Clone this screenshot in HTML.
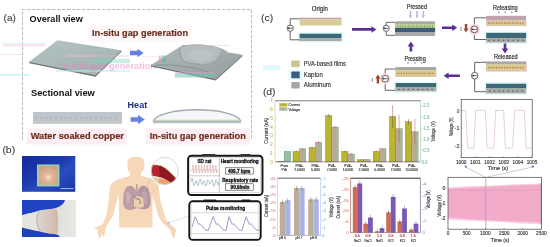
<!DOCTYPE html>
<html><head><meta charset="utf-8"><style>
html,body{margin:0;padding:0;background:#fff;}
svg{display:block;filter:blur(0.42px);}
text{font-family:"Liberation Sans",sans-serif;}
</style></head><body>
<svg width="550" height="247" viewBox="0 0 550 247">
<rect width="550" height="247" fill="#fff"/>
<text x="3.6" y="20.7" font-size="9.6" fill="#404040" text-anchor="start" textLength="12.3" lengthAdjust="spacingAndGlyphs" stroke="#404040" stroke-width="0.12">(a)</text>
<path d="M22.5,140 V9.5 H251.5 V140" fill="none" stroke="#a8a8a8" stroke-width="0.8" stroke-dasharray="3.4,1.6"/>
<text x="29.6" y="22.2" font-size="9.1" fill="#111" font-weight="bold" text-anchor="start" textLength="53.2" lengthAdjust="spacingAndGlyphs">Overall view</text>
<rect x="88" y="25" width="104" height="17" fill="#fef8f9"/>
<text x="92" y="35.7" font-size="9.2" fill="#6e2e1e" font-weight="bold" text-anchor="start" textLength="96" lengthAdjust="spacingAndGlyphs" stroke="#6e2e1e" stroke-width="0.2">In-situ gap generation</text>
<defs>
<linearGradient id="slab" x1="0" y1="0" x2="1" y2="1">
 <stop offset="0" stop-color="#b4c4c2"/><stop offset="1" stop-color="#a0b0ae"/></linearGradient>
<linearGradient id="slab2" x1="0" y1="0" x2="1" y2="1">
 <stop offset="0" stop-color="#aeb8b8"/><stop offset="1" stop-color="#949e9e"/></linearGradient>
<radialGradient id="dome" cx="0.5" cy="0.45" r="0.6">
 <stop offset="0" stop-color="#bcc4c4"/><stop offset="0.7" stop-color="#b0b9b9"/><stop offset="1" stop-color="#a2acac" stop-opacity="0"/></radialGradient>
</defs>
<polygon points="29.2,61.7 57.5,40.3 121.4,50.3 95.6,75.1" fill="url(#slab)"/>
<polygon points="29.2,61.7 95.6,75.1 121.4,50.3 121.4,51.8 95.6,76.8 29.2,63.2" fill="#6f7a7a"/>
<rect x="92" y="58.8" width="38" height="4.4" fill="#72d6bc" opacity="0.4"/>
<rect x="66" y="54.5" width="30" height="2.6" fill="#f4b8d8" opacity="0.45"/><rect x="96" y="55" width="34" height="2" fill="#f4b8d8" opacity="0.3"/>
<rect x="56" y="70" width="74" height="1.8" fill="#b0f0f0" opacity="0.6"/>
<text x="60" y="69.3" font-size="9.0" fill="#f07cc0" font-weight="bold" text-anchor="start" textLength="96" lengthAdjust="spacingAndGlyphs" opacity="0.5">In-situ gap generation</text>
<polygon points="130,50.8 137.5,50.8 137.5,48.8 143.6,53 137.5,57.2 137.5,55.2 130,55.2" fill="#6680e0"/>
<polygon points="151,65 183.2,44.7 242.4,54.8 215.6,78.8" fill="url(#slab2)"/>
<path d="M178,48 Q186,43.6 200,44.2 Q214,45 224,49.5 L228,52 L200,56 Z" fill="#a6b0b0"/>
<path d="M180.6,48 Q178.5,56.5 185,61.5 Q191,64 200,64 Q210,64 215.5,60 Q219.5,55.5 221.5,49.5 Q212,45.8 200,45.4 Q188,45.4 180.6,47.5 Z" fill="#b4bebe"/>
<path d="M180.6,48 Q178.5,56.5 185,61.5 Q191,64 200,64" fill="none" stroke="#8a9595" stroke-width="0.9" opacity="0.7"/>
<ellipse cx="201" cy="55.5" rx="12" ry="5.5" fill="#bcc6c6" opacity="0.8"/>
<path d="M156,65.2 Q182,63.5 210,72.5" fill="none" stroke="#84908f" stroke-width="1.3" opacity="0.7"/>
<polygon points="151,65 215.6,78.8 242.4,54.8 242.4,56.3 215.6,80.4 151,66.5" fill="#6f7a7a"/>
<rect x="175" y="73" width="40.5" height="4.3" fill="#66ccb4" opacity="0.55" stroke="#f090c0" stroke-width="0.5"/>
<line x1="176" y1="72.8" x2="214" y2="72.8" stroke="#f0a0c8" stroke-width="0.6" opacity="0.8"/>
<line x1="190" y1="45.6" x2="230" y2="45.6" stroke="#f0a8cc" stroke-width="0.7" opacity="0.6"/>
<rect x="158.5" y="55.5" width="3" height="7" fill="#f080b0" opacity="0.55"/><rect x="162" y="55.5" width="4" height="7" fill="#50c0a0" opacity="0.55"/><line x1="143" y1="56.5" x2="158" y2="56.5" stroke="#f4a0cc" stroke-width="0.7" stroke-dasharray="1.5,1.5" opacity="0.7"/>
<text x="31" y="96.1" font-size="9.2" fill="#111" font-weight="bold" text-anchor="start" textLength="63.8" lengthAdjust="spacingAndGlyphs">Sectional view</text>
<rect x="33.5" y="112.5" width="88" height="10.7" fill="#bcc5cc" stroke="#a8b0b8" stroke-width="0.6"/>
<line x1="35" y1="118" x2="120" y2="118" stroke="#98a2aa" stroke-width="0.7" stroke-dasharray="2,3"/>
<line x1="34" y1="121.3" x2="121" y2="121.3" stroke="#d8d4a8" stroke-width="0.8"/>
<text x="127.6" y="108.4" font-size="9.2" fill="#1d2d80" font-weight="bold" text-anchor="start" textLength="19.6" lengthAdjust="spacingAndGlyphs">Heat</text>
<polygon points="130.6,117.3 138,117.3 138,114.8 144.8,119.5 138,124.2 138,121.7 130.6,121.7" fill="#6a80e4"/>
<path d="M153,121 C161,106 233,106 241,121" fill="#f6f7f8" stroke="#a2aab2" stroke-width="1.3"/>
<rect x="153" y="120.2" width="88" height="3" fill="#b4bcc2"/>
<line x1="155" y1="120" x2="239" y2="120" stroke="#dde0a0" stroke-width="0.8"/>
<rect x="27" y="128.5" width="100" height="16" fill="#fdeef3"/>
<text x="30.7" y="138.8" font-size="9.2" fill="#6e2e1e" font-weight="bold" text-anchor="start" textLength="93.3" lengthAdjust="spacingAndGlyphs" stroke="#6e2e1e" stroke-width="0.2">Water soaked copper</text>
<rect x="146" y="128.5" width="104" height="16" fill="#fdeef3"/>
<text x="149.7" y="138.9" font-size="9.2" fill="#6e2e1e" font-weight="bold" text-anchor="start" textLength="96.1" lengthAdjust="spacingAndGlyphs" stroke="#6e2e1e" stroke-width="0.2">In-situ gap generation</text>
<rect x="3" y="42.8" width="42" height="1.4" fill="#d6f6f6" opacity="0.8"/>
<rect x="3" y="44.5" width="42" height="2" fill="#f8d4ea" opacity="0.7"/>
<rect x="0" y="73.8" width="30" height="2" fill="#c4f2f2" opacity="0.8"/>
<rect x="0" y="54" width="22" height="1.2" fill="#f4d8ec" opacity="0.6"/>
<text x="2.4" y="152.5" font-size="9.6" fill="#404040" text-anchor="start" textLength="12.8" lengthAdjust="spacingAndGlyphs" stroke="#404040" stroke-width="0.12">(b)</text>
<defs><linearGradient id="p1" x1="0" y1="0" x2="1" y2="1"><stop offset="0" stop-color="#15289a"/><stop offset="0.45" stop-color="#1e3cb0"/><stop offset="0.6" stop-color="#2a4cc0"/><stop offset="1" stop-color="#1a36a8"/></linearGradient><radialGradient id="cu" cx="0.5" cy="0.6" r="0.65"><stop offset="0" stop-color="#f6e6da"/><stop offset="0.3" stop-color="#e2b89c"/><stop offset="1" stop-color="#cc9e82"/></radialGradient></defs>
<rect x="22" y="156" width="53.5" height="35.8" fill="url(#p1)"/>
<rect x="75.3" y="156" width="0.9" height="35.8" fill="#c8f0f0"/>
<rect x="37" y="164.5" width="22.4" height="21.9" fill="#98d4b4"/>
<rect x="38.6" y="166.1" width="19.2" height="18.7" fill="url(#cu)"/>
<line x1="60.5" y1="188.6" x2="73.5" y2="188.6" stroke="#b8ccff" stroke-width="0.9"/>
<defs><linearGradient id="p2" x1="0" y1="0" x2="1" y2="0"><stop offset="0" stop-color="#cfd0cc"/><stop offset="1" stop-color="#e8e8e4"/></linearGradient></defs>
<rect x="22" y="200" width="54" height="37" fill="url(#p2)"/>
<path d="M22,200 H65 C64,203.5 61,206.5 55,208.2 C48,209.8 40,210.5 35,212.2 C30,213 25,214 22,215.2 Z" fill="#2242c4"/>
<path d="M22,215.2 C28,213.5 34,212.5 40,210.3 C35.5,216 36,225 40.3,231.5 C34,230.5 28,229 22,227.4 Z" fill="#e4e4e0"/>
<path d="M22,227.4 C28,229 34,230.5 40.3,231.5 C47,233.2 54,234 57,234.5 C58.5,235.5 59.5,236.2 60,237 H22 Z" fill="#2040bc"/>
<defs><linearGradient id="fg" x1="0" y1="0" x2="1" y2="0"><stop offset="0" stop-color="#dcd6d0"/><stop offset="0.6" stop-color="#d6c6ba"/><stop offset="1" stop-color="#cfb5a6"/></linearGradient></defs>
<path d="M40,210.3 C47,209.5 54,208.8 57,210 C58.5,218 58.5,226 57.5,233.5 C50,234 44,233 40.3,231.5 C36,225 35.5,216 40,210.3 Z" fill="url(#fg)"/>
<path d="M40,210.3 C35.5,216 36,225 40.3,231.5" fill="none" stroke="#b8aca4" stroke-width="0.9"/>
<rect x="127.4" y="157" width="16.8" height="16" rx="5.5" fill="#f6d7b7"/>
<path d="M129.8,170 L129.8,176.3 Q120,178 114.3,181.5 Q110.5,183.5 109.8,188 L108.8,200 L106.5,215 L103,224 Q98,226 94,228.8 Q96,229.8 98.3,229.3 L97.6,233.5 L99.4,238.6 Q101.2,237.5 101.8,234 L103.6,237 Q104.8,234 105.2,231 Q106,228 106.6,225.5 L112.8,216.5 L116.8,201 L118.8,195 L119.2,227.5 L152.4,227.5 L152.6,195 L153.9,200 L158,215 L162,222.6 Q166,226.5 169.5,229 L173.5,238.4 Q175.2,237.5 175,233.5 L176.8,230.3 Q172,225 167,222 L164.4,215 L160.4,200 L158.8,188 Q158,182.5 151,178.3 L141,176 L141,170 Z" fill="#f6d7b7"/>
<path d="M123.3,205 Q122.5,194 125.5,188 Q128.5,185 132,186 Q135.5,188 136.5,192 L136.8,208 Q133,210.5 128,209.8 Q124.5,209 123.5,205 Z" fill="#bd9ea6"/>
<path d="M150.5,204.5 Q151,194 148,188 Q145,185 141.5,186 Q138,188.5 137.3,192 L137.3,208 Q141,209.5 145.5,209 Q149.5,208.5 150.3,204.5 Z" fill="#b6969e"/>
<path d="M126,193 Q129,190 131,196 Q130,203 127,204 Z" fill="#d0b4ba" opacity="0.8"/><path d="M142,192 Q146,190 148,196 Q148,203 145,205 Z" fill="#c8aab2" opacity="0.7"/>
<path d="M134,198 Q138,194.5 143,198 L144,206.5 Q139,209 134,206.5 Z" fill="#ecd2ac"/>
<path d="M136.8,184 L137,196" stroke="#a08890" stroke-width="1"/>
<path d="M133,196 Q136,200 139,199 Q141,201 140,204" fill="none" stroke="#907078" stroke-width="1"/>
<line x1="150.5" y1="180" x2="139.5" y2="199" stroke="#b8b8b8" stroke-width="0.5"/>
<line x1="160" y1="184.5" x2="148.5" y2="196.5" stroke="#b8b8b8" stroke-width="0.5"/>
<defs><clipPath id="mag"><circle cx="164.8" cy="171" r="13.6"/></clipPath></defs>
<circle cx="164.8" cy="171" r="13.6" fill="#fff"/>
<g clip-path="url(#mag)"><path d="M150,164.2 Q156,164.2 160.7,164.9 Q165,166.5 168.4,170.1 Q172,173.5 175.4,176.8 L180,190 L150,190 Z" fill="#d4d4a4"/><path d="M150,165.2 Q156,165.2 160.7,165.9 Q165,167.5 168.4,171 Q172,174.5 175,177.6 L178.5,182 Q176,184.5 175,185 Q170,182 168,181 Q164,178.5 160,177.3 Q155,175.8 150,175.4 Z" fill="#8c1a20"/><path d="M150,165.2 Q155,165.2 158.5,165.6 Q160,170 159.5,176.8 Q155,175.8 150,175.4 Z" fill="#b8242e"/><path d="M150,175.4 Q155,175.8 160,177.3 Q164,178.5 168,181 Q170,182 175,185 L175,190 L150,190 Z" fill="#f2dcc6"/><path d="M159,178.2 Q164,178.8 168,181 Q171,182.5 173.5,184.3 L172,187 L160,187 Q157,183 159,178.2 Z" fill="#e6a072"/><path d="M151,178 Q155,178.5 158,180" fill="none" stroke="#c8b080" stroke-width="0.8"/></g>
<circle cx="164.8" cy="171" r="13.6" fill="none" stroke="#d4d4d4" stroke-width="0.9"/>
<line x1="169" y1="222.8" x2="188.5" y2="216" stroke="#9aa0b8" stroke-width="0.6" stroke-dasharray="1.5,1.2"/>
<circle cx="168.5" cy="223" r="1.6" fill="#c0c4f0"/>
<rect x="188.1" y="155.7" width="74.4" height="39.3" rx="3.5" fill="#fff" stroke="#151515" stroke-width="1.9"/>
<rect x="189.9" y="157.6" width="70.4" height="35" fill="none" stroke="#b8b8b8" stroke-width="0.5"/>
<line x1="219.3" y1="157.6" x2="219.3" y2="192.6" stroke="#888" stroke-width="0.5"/>
<line x1="189.9" y1="175.8" x2="219.3" y2="175.8" stroke="#999" stroke-width="0.5"/>
<text x="204.4" y="162.7" font-size="4.6" fill="#222" font-weight="bold" text-anchor="middle" textLength="14" lengthAdjust="spacingAndGlyphs" stroke="#111" stroke-width="0.28">SD rat</text>
<path d="M190.5,170.6 L192.4,170.2 L193.1,165 L193.7,173 L194.3,170.2 L195.2,170.2 L195.9,165 L196.5,173 L197.1,170.2 L198.1,170.2 L198.8,165 L199.4,173 L200.0,170.2 L201.0,170.2 L201.7,165 L202.2,173 L202.8,170.2 L203.8,170.2 L204.5,165 L205.1,173 L205.7,170.2 L206.7,170.2 L207.3,165 L207.9,173 L208.5,170.2 L209.5,170.2 L210.2,165 L210.8,173 L211.4,170.2 L212.3,170.2 L213.0,165 L213.6,173 L214.2,170.2 L215.2,170.2 L215.9,165 L216.5,173 L217.1,170.2 L218.5,170.2" fill="none" stroke="#cc9090" stroke-width="0.5"/>
<rect x="202" y="154.1" width="13.5" height="1.8" rx="0.6" fill="#333"/>
<rect x="240.5" y="154.1" width="10" height="1.8" rx="0.6" fill="#333"/>
<polyline points="191.0,181.8 191.5,180.4 192.0,178.2 192.5,180.2 193.0,182.3 193.5,183.3 194.0,185.8 194.5,184.7 195.0,182.6 195.5,182.4 196.0,180.6 196.5,181.4 197.0,184.3 197.5,184.5 198.0,185.6 198.5,185.1 199.0,181.5 199.5,180.5 200.0,179.5 200.5,179.0 201.0,182.2 201.5,183.5 202.0,183.9 202.5,184.8 203.0,182.2 203.5,180.7 204.0,181.4 204.5,181.0 205.0,183.6 205.5,186.1 206.0,185.3 206.5,185.5 207.0,183.3 207.5,180.0 208.0,180.3 208.5,180.2 209.0,181.1 209.5,184.2 210.0,183.9 210.5,183.2 211.0,182.7 211.5,179.8 212.0,180.0 212.5,181.7 213.0,182.4 213.5,185.6 214.0,186.5 214.5,184.7 215.0,184.1 215.5,181.4 216.0,179.8 216.5,181.6 217.0,182.0 217.5,183.5 218.0,185.1 218.5,182.8 219.0,181.6" fill="none" stroke="#6a8ea0" stroke-width="0.5"/>
<text x="239.7" y="163.4" font-size="4.8" fill="#111" font-weight="bold" text-anchor="middle" textLength="38" lengthAdjust="spacingAndGlyphs" stroke="#111" stroke-width="0.28">Heart monitoring</text>
<rect x="225.3" y="167.8" width="27.9" height="6.2" fill="#fff" stroke="#222" stroke-width="0.5"/>
<text x="239.2" y="172.7" font-size="4.6" fill="#111" font-weight="bold" text-anchor="middle" textLength="22.4" lengthAdjust="spacingAndGlyphs" stroke="#111" stroke-width="0.28">409.7 bpm</text>
<text x="240.2" y="182.3" font-size="4.8" fill="#111" font-weight="bold" text-anchor="middle" textLength="36.1" lengthAdjust="spacingAndGlyphs" stroke="#111" stroke-width="0.28">Respiratory rate</text>
<rect x="225.3" y="183.8" width="27.9" height="6.4" fill="#fff" stroke="#222" stroke-width="0.5"/>
<text x="240" y="188.8" font-size="4.6" fill="#111" font-weight="bold" text-anchor="middle" textLength="19" lengthAdjust="spacingAndGlyphs" stroke="#111" stroke-width="0.28">90.9/min</text>
<rect x="203.3" y="199.4" width="13.2" height="2" rx="0.8" fill="#333"/>
<rect x="241.3" y="199.4" width="9.1" height="2" rx="0.8" fill="#333"/>
<rect x="189.3" y="201.3" width="71.4" height="38.6" rx="3.5" fill="#fff" stroke="#151515" stroke-width="1.9"/>
<rect x="191.1" y="202.4" width="67.5" height="35.8" fill="none" stroke="#c0c0c0" stroke-width="0.4"/>
<text x="225.6" y="209.8" font-size="5" fill="#111" font-weight="bold" text-anchor="middle" textLength="39.4" lengthAdjust="spacingAndGlyphs" stroke="#111" stroke-width="0.28">Pulse monitoring</text>
<line x1="191.1" y1="212.7" x2="258.6" y2="212.7" stroke="#b0b0b0" stroke-width="0.5"/>
<line x1="191.1" y1="233.6" x2="258.6" y2="233.6" stroke="#b0b0b0" stroke-width="0.5"/>
<path d="M192,227 L195.2,216.7 L198.5,224.5 L200.0,223.6 L205.2,229.8 L208.2,230.5 L213.1,216.7 L216.4,224.5 L217.9,223.6 L223.1,229.8 L226.1,230.5 L228.9,216.7 L232.2,224.5 L233.7,223.6 L238.9,229.8 L241.9,230.5 L246.1,216.7 L249.4,224.5 L250.9,223.6 L256.1,229.8 L259.1,230.5" fill="none" stroke="#9488c8" stroke-width="0.85" stroke-linejoin="round"/>
<text x="261.0" y="20.8" font-size="9.6" fill="#404040" text-anchor="start" textLength="12.2" lengthAdjust="spacingAndGlyphs" stroke="#404040" stroke-width="0.12">(c)</text>
<text x="319.8" y="10.9" font-size="6.6" fill="#222" text-anchor="middle" textLength="16" lengthAdjust="spacingAndGlyphs" stroke="#222" stroke-width="0.14">Origin</text>
<rect x="299.6" y="17.7" width="41.9" height="1.6" fill="#c0a3ad"/>
<rect x="299.6" y="19.3" width="41.9" height="6.2" fill="#d9cb9c"/>
<rect x="297.5" y="32" width="46" height="10.5" fill="#e2fbfb"/>
<rect x="299.6" y="33.7" width="41.9" height="4.5" fill="#3d6878"/>
<rect x="299.6" y="38.2" width="41.9" height="2.9" fill="#a9a9a6"/>
<path d="M299.6,18.8 H290.2 V25.099999999999998 M290.2,31.3 V39.8 H299.6" fill="none" stroke="#333" stroke-width="0.75"/>
<circle cx="290.2" cy="28.2" r="3.1" fill="#fff" stroke="#222" stroke-width="0.7"/>
<line x1="287.9" y1="28.2" x2="292.5" y2="28.2" stroke="#222" stroke-width="0.7"/>
<polygon points="287.7,28.2 289.29999999999995,27.099999999999998 289.29999999999995,29.3" fill="#222"/>
<polygon points="352,28.099999999999998 371.4,28.099999999999998 371.4,26.15 376.4,29.4 371.4,32.65 371.4,30.7 352,30.7" fill="#5a2f90"/>
<text x="416.9" y="9.2" font-size="6.6" fill="#222" text-anchor="middle" textLength="20.2" lengthAdjust="spacingAndGlyphs" stroke="#222" stroke-width="0.14">Pressed</text>
<polygon points="409.65,11 409.65,15.6 408.79999999999995,15.6 410.4,18.2 412.0,15.6 411.15,15.6 411.15,11" fill="#b6b2e2"/>
<polygon points="416.25,11 416.25,15.6 415.4,15.6 417,18.2 418.6,15.6 417.75,15.6 417.75,11" fill="#b6b2e2"/>
<polygon points="422.65,11 422.65,15.6 421.79999999999995,15.6 423.4,18.2 425.0,15.6 424.15,15.6 424.15,11" fill="#b6b2e2"/>
<rect x="395" y="21.3" width="40.1" height="14.7" rx="1.5" fill="#a9a9a6"/>
<rect x="395" y="24.3" width="40.1" height="3.5" fill="#c4dc90"/>
<circle cx="397.5" cy="26.05" r="0.65" fill="#4a6a30"/>
<circle cx="400.2" cy="26.05" r="0.65" fill="#4a6a30"/>
<circle cx="402.9" cy="26.05" r="0.65" fill="#4a6a30"/>
<circle cx="405.6" cy="26.05" r="0.65" fill="#4a6a30"/>
<circle cx="408.3" cy="26.05" r="0.65" fill="#4a6a30"/>
<circle cx="411.0" cy="26.05" r="0.65" fill="#4a6a30"/>
<circle cx="413.7" cy="26.05" r="0.65" fill="#4a6a30"/>
<circle cx="416.3" cy="26.05" r="0.65" fill="#4a6a30"/>
<circle cx="419.0" cy="26.05" r="0.65" fill="#4a6a30"/>
<circle cx="421.7" cy="26.05" r="0.65" fill="#4a6a30"/>
<circle cx="424.4" cy="26.05" r="0.65" fill="#4a6a30"/>
<circle cx="427.1" cy="26.05" r="0.65" fill="#4a6a30"/>
<circle cx="429.8" cy="26.05" r="0.65" fill="#4a6a30"/>
<circle cx="432.5" cy="26.05" r="0.65" fill="#4a6a30"/>
<rect x="395" y="27.8" width="40.1" height="4.2" fill="#3e5a78"/>
<path d="M395,22.3 H386.2 V25.2 M386.2,31.400000000000002 V35.3 H395" fill="none" stroke="#333" stroke-width="0.75"/>
<circle cx="386.2" cy="28.3" r="3.1" fill="#fff" stroke="#222" stroke-width="0.7"/>
<line x1="383.9" y1="28.3" x2="388.5" y2="28.3" stroke="#222" stroke-width="0.7"/>
<polygon points="383.7,28.3 385.29999999999995,27.2 385.29999999999995,29.400000000000002" fill="#222"/>
<polygon points="409.59999999999997,51.5 409.59999999999997,46.5 407.65,46.5 410.9,41.5 414.15,46.5 412.2,46.5 412.2,51.5" fill="#5a2f90"/>
<text x="505.3" y="9.5" font-size="6.6" fill="#222" text-anchor="middle" textLength="24.6" lengthAdjust="spacingAndGlyphs" stroke="#222" stroke-width="0.14">Releasing</text>
<circle cx="498.8" cy="12.2" r="1" fill="#b4b0e0"/>
<circle cx="505.2" cy="12.2" r="1" fill="#b4b0e0"/>
<circle cx="511.8" cy="12.2" r="1" fill="#b4b0e0"/>
<polygon points="442,26.5 452.2,26.5 452.2,24.55 457.2,27.8 452.2,31.05 452.2,29.1 442,29.1" fill="#5a2f90"/>
<text x="460.3" y="30.5" font-size="5" fill="#555" text-anchor="start" stroke="#555" stroke-width="0.14">I</text>
<polygon points="464.8,23.9 467.2,23.9 467.2,28.6 468.6,28.6 466,32.4 463.4,28.6 464.8,28.6" fill="#9a4a2a"/>
<rect x="486.2" y="15.8" width="39.9" height="4.6" fill="#c0a3ad"/>
<rect x="486.2" y="20.4" width="39.9" height="5.5" fill="#d9cb9c" stroke="#e0b8c0" stroke-width="0.4"/>
<circle cx="489.0" cy="23.1" r="0.85" fill="#c4883c"/>
<circle cx="491.6" cy="23.1" r="0.85" fill="#c4883c"/>
<circle cx="494.2" cy="23.1" r="0.85" fill="#c4883c"/>
<circle cx="496.8" cy="23.1" r="0.85" fill="#c4883c"/>
<circle cx="499.5" cy="23.1" r="0.85" fill="#c4883c"/>
<circle cx="502.1" cy="23.1" r="0.85" fill="#c4883c"/>
<circle cx="504.7" cy="23.1" r="0.85" fill="#c4883c"/>
<circle cx="507.3" cy="23.1" r="0.85" fill="#c4883c"/>
<circle cx="509.9" cy="23.1" r="0.85" fill="#c4883c"/>
<circle cx="512.5" cy="23.1" r="0.85" fill="#c4883c"/>
<circle cx="515.2" cy="23.1" r="0.85" fill="#c4883c"/>
<circle cx="517.8" cy="23.1" r="0.85" fill="#c4883c"/>
<circle cx="520.4" cy="23.1" r="0.85" fill="#c4883c"/>
<circle cx="523.0" cy="23.1" r="0.85" fill="#c4883c"/>
<rect x="484.5" y="31.5" width="43" height="12.5" fill="#e2fbfb"/>
<rect x="486.2" y="32.8" width="39.9" height="5.2" fill="#3d6878"/>
<rect x="486.2" y="38" width="39.9" height="4.5" fill="#a9a9a6"/>
<circle cx="489.0" cy="40.3" r="0.7" fill="#4a4a4a"/>
<circle cx="493.9" cy="40.3" r="0.7" fill="#4a4a4a"/>
<circle cx="498.7" cy="40.3" r="0.7" fill="#4a4a4a"/>
<circle cx="503.6" cy="40.3" r="0.7" fill="#4a4a4a"/>
<circle cx="508.4" cy="40.3" r="0.7" fill="#4a4a4a"/>
<circle cx="513.3" cy="40.3" r="0.7" fill="#4a4a4a"/>
<circle cx="518.1" cy="40.3" r="0.7" fill="#4a4a4a"/>
<circle cx="523.0" cy="40.3" r="0.7" fill="#4a4a4a"/>
<path d="M486.2,17.8 H474.4 V26.099999999999998 M474.4,32.699999999999996 V39.5 H486.2" fill="none" stroke="#333" stroke-width="0.75"/>
<circle cx="474.4" cy="29.4" r="5.5" fill="#fbd0dc"/>
<circle cx="474.4" cy="29.4" r="3.3" fill="#fff" stroke="#222" stroke-width="0.7"/>
<line x1="471.9" y1="29.4" x2="476.9" y2="29.4" stroke="#222" stroke-width="0.7"/>
<polygon points="471.7,29.4 473.29999999999995,28.299999999999997 473.29999999999995,30.5" fill="#222"/>
<polygon points="503.7,43.6 503.7,48.4 501.75,48.4 505,53.4 508.25,48.4 506.3,48.4 506.3,43.6" fill="#5a2f90"/>
<text x="505.8" y="59.4" font-size="6.6" fill="#222" text-anchor="middle" textLength="23.8" lengthAdjust="spacingAndGlyphs" stroke="#222" stroke-width="0.14">Released</text>
<rect x="486.1" y="61.4" width="40.1" height="9.7" fill="#a9a9a6" stroke="#e8b8c0" stroke-width="0.5"/>
<rect x="486.1" y="64" width="40.1" height="7.1" fill="#d9cb9c"/>
<circle cx="489.0" cy="67.6" r="0.85" fill="#c4883c"/>
<circle cx="491.6" cy="67.6" r="0.85" fill="#c4883c"/>
<circle cx="494.2" cy="67.6" r="0.85" fill="#c4883c"/>
<circle cx="496.8" cy="67.6" r="0.85" fill="#c4883c"/>
<circle cx="499.5" cy="67.6" r="0.85" fill="#c4883c"/>
<circle cx="502.1" cy="67.6" r="0.85" fill="#c4883c"/>
<circle cx="504.7" cy="67.6" r="0.85" fill="#c4883c"/>
<circle cx="507.3" cy="67.6" r="0.85" fill="#c4883c"/>
<circle cx="509.9" cy="67.6" r="0.85" fill="#c4883c"/>
<circle cx="512.5" cy="67.6" r="0.85" fill="#c4883c"/>
<circle cx="515.2" cy="67.6" r="0.85" fill="#c4883c"/>
<circle cx="517.8" cy="67.6" r="0.85" fill="#c4883c"/>
<circle cx="520.4" cy="67.6" r="0.85" fill="#c4883c"/>
<circle cx="523.0" cy="67.6" r="0.85" fill="#c4883c"/>
<rect x="484.5" y="82" width="43" height="13" fill="#e2fbfb"/>
<rect x="486.1" y="83.7" width="40.1" height="4.8" fill="#3d6878"/>
<rect x="486.1" y="88.5" width="40.1" height="4.9" fill="#a9a9a6"/>
<circle cx="490.0" cy="91" r="0.7" fill="#4a4a4a"/>
<circle cx="494.6" cy="91" r="0.7" fill="#4a4a4a"/>
<circle cx="499.1" cy="91" r="0.7" fill="#4a4a4a"/>
<circle cx="503.7" cy="91" r="0.7" fill="#4a4a4a"/>
<circle cx="508.3" cy="91" r="0.7" fill="#4a4a4a"/>
<circle cx="512.9" cy="91" r="0.7" fill="#4a4a4a"/>
<circle cx="517.4" cy="91" r="0.7" fill="#4a4a4a"/>
<circle cx="522.0" cy="91" r="0.7" fill="#4a4a4a"/>
<path d="M486.1,62.3 H474.7 V72.4 M474.7,79.0 V91.7 H486.1" fill="none" stroke="#333" stroke-width="0.75"/>
<circle cx="474.7" cy="75.7" r="3.3" fill="#fff" stroke="#222" stroke-width="0.7"/>
<line x1="472.2" y1="75.7" x2="477.2" y2="75.7" stroke="#222" stroke-width="0.7"/>
<polygon points="472.0,75.7 473.59999999999997,74.60000000000001 473.59999999999997,76.8" fill="#222"/>
<polygon points="459.9,74.4 448.6,74.4 448.6,72.45 443.6,75.7 448.6,78.95 448.6,77.0 459.9,77.0" fill="#5a2f90"/>
<text x="415.1" y="60.5" font-size="6.6" fill="#222" text-anchor="middle" textLength="21.1" lengthAdjust="spacingAndGlyphs" stroke="#222" stroke-width="0.14">Pressing</text>
<circle cx="408" cy="62.9" r="1" fill="#b4b0e0"/>
<circle cx="415" cy="62.9" r="1" fill="#b4b0e0"/>
<circle cx="421.6" cy="62.9" r="1" fill="#b4b0e0"/>
<rect x="395.6" y="67" width="40.6" height="9.7" fill="#a9a9a6"/>
<rect x="395.6" y="70" width="40.6" height="6.7" fill="#d9cb9c"/>
<circle cx="398.5" cy="73.3" r="0.85" fill="#c4883c"/>
<circle cx="401.2" cy="73.3" r="0.85" fill="#c4883c"/>
<circle cx="403.8" cy="73.3" r="0.85" fill="#c4883c"/>
<circle cx="406.5" cy="73.3" r="0.85" fill="#c4883c"/>
<circle cx="409.1" cy="73.3" r="0.85" fill="#c4883c"/>
<circle cx="411.8" cy="73.3" r="0.85" fill="#c4883c"/>
<circle cx="414.4" cy="73.3" r="0.85" fill="#c4883c"/>
<circle cx="417.1" cy="73.3" r="0.85" fill="#c4883c"/>
<circle cx="419.7" cy="73.3" r="0.85" fill="#c4883c"/>
<circle cx="422.4" cy="73.3" r="0.85" fill="#c4883c"/>
<circle cx="425.0" cy="73.3" r="0.85" fill="#c4883c"/>
<circle cx="427.7" cy="73.3" r="0.85" fill="#c4883c"/>
<circle cx="430.3" cy="73.3" r="0.85" fill="#c4883c"/>
<circle cx="433.0" cy="73.3" r="0.85" fill="#c4883c"/>
<rect x="394" y="81.5" width="44" height="11.5" fill="#e2fbfb"/>
<rect x="395.6" y="83" width="40.6" height="4.5" fill="#3d6878"/>
<rect x="395.6" y="87.5" width="40.6" height="3.8" fill="#a9a9a6"/>
<circle cx="399.0" cy="89.4" r="0.7" fill="#4a4a4a"/>
<circle cx="403.7" cy="89.4" r="0.7" fill="#4a4a4a"/>
<circle cx="408.4" cy="89.4" r="0.7" fill="#4a4a4a"/>
<circle cx="413.1" cy="89.4" r="0.7" fill="#4a4a4a"/>
<circle cx="417.9" cy="89.4" r="0.7" fill="#4a4a4a"/>
<circle cx="422.6" cy="89.4" r="0.7" fill="#4a4a4a"/>
<circle cx="427.3" cy="89.4" r="0.7" fill="#4a4a4a"/>
<circle cx="432.0" cy="89.4" r="0.7" fill="#4a4a4a"/>
<path d="M395.6,69 H385.2 V75.4 M385.2,82.0 V90.3 H395.6" fill="none" stroke="#333" stroke-width="0.75"/>
<circle cx="385.2" cy="78.7" r="5.5" fill="#fbd8e2"/>
<circle cx="385.2" cy="78.7" r="3.3" fill="#fff" stroke="#222" stroke-width="0.7"/>
<line x1="382.7" y1="78.7" x2="387.7" y2="78.7" stroke="#222" stroke-width="0.7"/>
<polygon points="382.5,78.7 384.09999999999997,77.60000000000001 384.09999999999997,79.8" fill="#222"/>
<text x="371.6" y="81.5" font-size="5" fill="#555" text-anchor="start" stroke="#555" stroke-width="0.14">I</text>
<polygon points="376.7,83.5 379.1,83.5 379.1,78.4 380.5,78.4 377.9,74.6 375.3,78.4 376.7,78.4" fill="#9a4a2a"/>
<rect x="263" y="65" width="17" height="5.5" fill="#dcf8f8" opacity="0.8"/>
<rect x="288.5" y="69.8" width="14" height="10.2" fill="#e2fbfb"/>
<rect x="291.3" y="60.6" width="8.4" height="6.7" rx="0.8" fill="#cac592"/>
<rect x="291.3" y="71.5" width="8.4" height="6.8" rx="0.8" fill="#3f5b7e"/>
<rect x="291.3" y="81.9" width="8.4" height="6.7" rx="0.8" fill="#a6a6a6"/>
<text x="303.7" y="65.8" font-size="6.8" fill="#333" text-anchor="start" textLength="42.3" lengthAdjust="spacingAndGlyphs" stroke="#333" stroke-width="0.14">PVA-based films</text>
<text x="303.7" y="76.5" font-size="6.8" fill="#333" text-anchor="start" textLength="19.1" lengthAdjust="spacingAndGlyphs" stroke="#333" stroke-width="0.14">Kapton</text>
<text x="303.7" y="87.4" font-size="6.8" fill="#333" text-anchor="start" textLength="27.3" lengthAdjust="spacingAndGlyphs" stroke="#333" stroke-width="0.14">Aluminum</text>
<text x="262.9" y="94.8" font-size="9.6" fill="#404040" text-anchor="start" textLength="12.7" lengthAdjust="spacingAndGlyphs" stroke="#404040" stroke-width="0.12">(d)</text>
<defs><linearGradient id="gv" x1="0" y1="0" x2="1" y2="0"><stop offset="0" stop-color="#c2ab94"/><stop offset="0.55" stop-color="#b0ae94"/><stop offset="1" stop-color="#9cc0a6"/></linearGradient></defs>
<rect x="280" y="146" width="13" height="16" fill="#eefbf8" opacity="0.7"/>
<rect x="277.8" y="161.5" width="6.4" height="0.4" fill="#b9b532" stroke="#6a6420" stroke-width="0.3"/>
<rect x="284.2" y="151.4" width="6.4" height="10.5" fill="#92c0a2" stroke="#6a6450" stroke-width="0.3"/>
<rect x="293" y="151.4" width="6.4" height="10.5" fill="#b9b532" stroke="#6a6420" stroke-width="0.3"/>
<rect x="299.4" y="148.8" width="6.4" height="13.1" fill="url(#gv)" stroke="#6a6450" stroke-width="0.3"/>
<line x1="296.2" y1="150.6" x2="296.2" y2="152.3" stroke="#7a3030" stroke-width="0.45"/>
<line x1="302.6" y1="147.9" x2="302.6" y2="149.7" stroke="#c04050" stroke-width="0.45"/>
<rect x="309" y="147.5" width="6.4" height="14.4" fill="#b9b532" stroke="#6a6420" stroke-width="0.3"/>
<rect x="315.4" y="142.3" width="6.4" height="19.6" fill="url(#gv)" stroke="#6a6450" stroke-width="0.3"/>
<line x1="312.2" y1="146.6" x2="312.2" y2="148.4" stroke="#7a3030" stroke-width="0.45"/>
<line x1="318.6" y1="141.0" x2="318.6" y2="143.6" stroke="#c04050" stroke-width="0.45"/>
<rect x="325.5" y="115.6" width="6.4" height="46.3" fill="#b9b532" stroke="#6a6420" stroke-width="0.3"/>
<rect x="331.9" y="127.0" width="6.4" height="34.9" fill="url(#gv)" stroke="#6a6450" stroke-width="0.3"/>
<line x1="328.7" y1="113.9" x2="328.7" y2="117.4" stroke="#7a3030" stroke-width="0.45"/>
<line x1="335.1" y1="125.7" x2="335.1" y2="128.3" stroke="#c04050" stroke-width="0.45"/>
<rect x="341.6" y="151.4" width="6.4" height="10.5" fill="#b9b532" stroke="#6a6420" stroke-width="0.3"/>
<rect x="348.0" y="154.0" width="6.4" height="7.9" fill="url(#gv)" stroke="#6a6450" stroke-width="0.3"/>
<line x1="344.8" y1="150.6" x2="344.8" y2="152.3" stroke="#7a3030" stroke-width="0.45"/>
<line x1="351.20000000000005" y1="152.7" x2="351.20000000000005" y2="155.4" stroke="#c04050" stroke-width="0.45"/>
<rect x="357.4" y="159.7" width="6.4" height="2.2" fill="#b9b532" stroke="#6a6420" stroke-width="0.3"/>
<rect x="363.79999999999995" y="159.5" width="6.4" height="2.4" fill="url(#gv)" stroke="#6a6450" stroke-width="0.3"/>
<line x1="360.59999999999997" y1="159.3" x2="360.59999999999997" y2="160.2" stroke="#7a3030" stroke-width="0.45"/>
<line x1="367.0" y1="159.0" x2="367.0" y2="159.9" stroke="#c04050" stroke-width="0.45"/>
<rect x="373.2" y="151.4" width="6.4" height="10.5" fill="#b9b532" stroke="#6a6420" stroke-width="0.3"/>
<rect x="379.59999999999997" y="148.8" width="6.4" height="13.1" fill="url(#gv)" stroke="#6a6450" stroke-width="0.3"/>
<line x1="376.4" y1="150.6" x2="376.4" y2="152.3" stroke="#7a3030" stroke-width="0.45"/>
<line x1="382.8" y1="147.9" x2="382.8" y2="149.7" stroke="#c04050" stroke-width="0.45"/>
<rect x="389.5" y="116.5" width="6.4" height="45.4" fill="#b9b532" stroke="#6a6420" stroke-width="0.3"/>
<rect x="395.9" y="128.7" width="6.4" height="33.2" fill="url(#gv)" stroke="#6a6450" stroke-width="0.3"/>
<line x1="392.7" y1="105.2" x2="392.7" y2="127.9" stroke="#7a3030" stroke-width="0.45"/>
<line x1="399.1" y1="114.8" x2="399.1" y2="142.7" stroke="#c04050" stroke-width="0.45"/>
<rect x="405.3" y="121.7" width="6.4" height="40.2" fill="#b9b532" stroke="#6a6420" stroke-width="0.3"/>
<rect x="411.7" y="131.8" width="6.4" height="30.1" fill="url(#gv)" stroke="#6a6450" stroke-width="0.3"/>
<line x1="408.5" y1="119.1" x2="408.5" y2="124.4" stroke="#7a3030" stroke-width="0.45"/>
<line x1="414.90000000000003" y1="118.7" x2="414.90000000000003" y2="144.9" stroke="#c04050" stroke-width="0.45"/>
<line x1="275" y1="100.8" x2="420.6" y2="100.8" stroke="#444" stroke-width="0.7"/>
<line x1="275" y1="161.9" x2="420.6" y2="161.9" stroke="#555" stroke-width="0.6"/>
<line x1="275" y1="100.8" x2="275" y2="161.9" stroke="#d8cc88" stroke-width="0.7"/>
<line x1="420.6" y1="100.8" x2="420.6" y2="161.9" stroke="#a0c8b0" stroke-width="0.7"/>
<text x="272.8" y="163.5" font-size="4.6" fill="#c8bc70" text-anchor="end" stroke="#c8bc70" stroke-width="0.14">0</text>
<line x1="275" y1="161.9" x2="276.2" y2="161.9" stroke="#c8bc70" stroke-width="0.4"/>
<text x="272.8" y="154.77142857142857" font-size="4.6" fill="#c8bc70" text-anchor="end" stroke="#c8bc70" stroke-width="0.14">-1</text>
<line x1="275" y1="153.2" x2="276.2" y2="153.2" stroke="#c8bc70" stroke-width="0.4"/>
<text x="272.8" y="146.04285714285714" font-size="4.6" fill="#c8bc70" text-anchor="end" stroke="#c8bc70" stroke-width="0.14">-2</text>
<line x1="275" y1="144.4" x2="276.2" y2="144.4" stroke="#c8bc70" stroke-width="0.4"/>
<text x="272.8" y="137.31428571428572" font-size="4.6" fill="#c8bc70" text-anchor="end" stroke="#c8bc70" stroke-width="0.14">-3</text>
<line x1="275" y1="135.7" x2="276.2" y2="135.7" stroke="#c8bc70" stroke-width="0.4"/>
<text x="272.8" y="128.5857142857143" font-size="4.6" fill="#c8bc70" text-anchor="end" stroke="#c8bc70" stroke-width="0.14">-4</text>
<line x1="275" y1="127.0" x2="276.2" y2="127.0" stroke="#c8bc70" stroke-width="0.4"/>
<text x="272.8" y="119.85714285714286" font-size="4.6" fill="#c8bc70" text-anchor="end" stroke="#c8bc70" stroke-width="0.14">-5</text>
<line x1="275" y1="118.3" x2="276.2" y2="118.3" stroke="#c8bc70" stroke-width="0.4"/>
<text x="272.8" y="111.12857142857142" font-size="4.6" fill="#c8bc70" text-anchor="end" stroke="#c8bc70" stroke-width="0.14">-6</text>
<line x1="275" y1="109.5" x2="276.2" y2="109.5" stroke="#c8bc70" stroke-width="0.4"/>
<text x="272.8" y="102.39999999999999" font-size="4.6" fill="#c8bc70" text-anchor="end" stroke="#c8bc70" stroke-width="0.14">-7</text>
<line x1="275" y1="100.8" x2="276.2" y2="100.8" stroke="#c8bc70" stroke-width="0.4"/>
<text x="421.8" y="163.5" font-size="4.6" fill="#8cc0a4" text-anchor="start" textLength="5.699999999999999" lengthAdjust="spacingAndGlyphs" stroke="#8cc0a4" stroke-width="0.14">0.0</text>
<text x="421.8" y="152.2683823529412" font-size="4.6" fill="#8cc0a4" text-anchor="start" textLength="7.6" lengthAdjust="spacingAndGlyphs" stroke="#8cc0a4" stroke-width="0.14">-0.5</text>
<text x="421.8" y="141.03676470588235" font-size="4.6" fill="#8cc0a4" text-anchor="start" textLength="7.6" lengthAdjust="spacingAndGlyphs" stroke="#8cc0a4" stroke-width="0.14">-1.0</text>
<text x="421.8" y="129.80514705882354" font-size="4.6" fill="#8cc0a4" text-anchor="start" textLength="7.6" lengthAdjust="spacingAndGlyphs" stroke="#8cc0a4" stroke-width="0.14">-1.5</text>
<text x="421.8" y="118.5735294117647" font-size="4.6" fill="#8cc0a4" text-anchor="start" textLength="7.6" lengthAdjust="spacingAndGlyphs" stroke="#8cc0a4" stroke-width="0.14">-2.0</text>
<text x="421.8" y="107.34191176470588" font-size="4.6" fill="#8cc0a4" text-anchor="start" textLength="7.6" lengthAdjust="spacingAndGlyphs" stroke="#8cc0a4" stroke-width="0.14">-2.5</text>
<text x="0" y="0" font-size="5.2" fill="#333" stroke="#333" stroke-width="0.12" text-anchor="middle" textLength="26" lengthAdjust="spacingAndGlyphs" transform="translate(267.6,130.8) rotate(-90)">Current (nA)</text>
<text x="0" y="0" font-size="5.2" fill="#333" stroke="#333" stroke-width="0.12" text-anchor="middle" textLength="20" lengthAdjust="spacingAndGlyphs" transform="translate(434.6,131.4) rotate(-90)">Voltage (V)</text>
<rect x="279.3" y="103.2" width="8.1" height="3.3" fill="#b9b532"/>
<rect x="279.3" y="107.3" width="8.1" height="3.4" fill="url(#gv)"/>
<text x="288.4" y="106.3" font-size="3.8" fill="#333" text-anchor="start" textLength="11.5" lengthAdjust="spacingAndGlyphs" stroke="#333" stroke-width="0.14">Current</text>
<text x="288.4" y="110.5" font-size="3.8" fill="#333" text-anchor="start" textLength="11.5" lengthAdjust="spacingAndGlyphs" stroke="#333" stroke-width="0.14">Voltage</text>
<text x="284.2" y="166.5" font-size="3.8" fill="#333" text-anchor="middle" textLength="7.6" lengthAdjust="spacingAndGlyphs" stroke="#333" stroke-width="0.14">Pure</text>
<text x="284.2" y="171" font-size="3.8" fill="#333" text-anchor="middle" textLength="5.25" lengthAdjust="spacingAndGlyphs" stroke="#333" stroke-width="0.14">PVA</text>
<text x="299.4" y="166.5" font-size="3.8" fill="#333" text-anchor="middle" textLength="7.6" lengthAdjust="spacingAndGlyphs" stroke="#333" stroke-width="0.14">PVA-</text>
<text x="299.4" y="171" font-size="3.8" fill="#333" text-anchor="middle" textLength="10.5" lengthAdjust="spacingAndGlyphs" stroke="#333" stroke-width="0.14">2.5000</text>
<text x="315.4" y="166.5" font-size="3.8" fill="#333" text-anchor="middle" textLength="7.6" lengthAdjust="spacingAndGlyphs" stroke="#333" stroke-width="0.14">PVA-</text>
<text x="315.4" y="171" font-size="3.8" fill="#333" text-anchor="middle" textLength="8.75" lengthAdjust="spacingAndGlyphs" stroke="#333" stroke-width="0.14">5.000</text>
<text x="331.9" y="166.5" font-size="3.8" fill="#333" text-anchor="middle" textLength="7.6" lengthAdjust="spacingAndGlyphs" stroke="#333" stroke-width="0.14">PVA-</text>
<text x="331.9" y="171" font-size="3.8" fill="#333" text-anchor="middle" textLength="10.5" lengthAdjust="spacingAndGlyphs" stroke="#333" stroke-width="0.14">7.5000</text>
<text x="348.0" y="166.5" font-size="3.8" fill="#333" text-anchor="middle" textLength="7.6" lengthAdjust="spacingAndGlyphs" stroke="#333" stroke-width="0.14">PVA-</text>
<text x="348.0" y="171" font-size="3.8" fill="#333" text-anchor="middle" textLength="10.5" lengthAdjust="spacingAndGlyphs" stroke="#333" stroke-width="0.14">10.000</text>
<text x="363.79999999999995" y="166.5" font-size="3.8" fill="#333" text-anchor="middle" textLength="7.6" lengthAdjust="spacingAndGlyphs" stroke="#333" stroke-width="0.14">PVA-</text>
<text x="363.79999999999995" y="171" font-size="3.8" fill="#333" text-anchor="middle" textLength="10.5" lengthAdjust="spacingAndGlyphs" stroke="#333" stroke-width="0.14">2.5000</text>
<text x="379.59999999999997" y="166.5" font-size="3.8" fill="#333" text-anchor="middle" textLength="7.6" lengthAdjust="spacingAndGlyphs" stroke="#333" stroke-width="0.14">PVA-</text>
<text x="379.59999999999997" y="171" font-size="3.8" fill="#333" text-anchor="middle" textLength="10.5" lengthAdjust="spacingAndGlyphs" stroke="#333" stroke-width="0.14">5.0000</text>
<text x="395.9" y="166.5" font-size="3.8" fill="#333" text-anchor="middle" textLength="7.6" lengthAdjust="spacingAndGlyphs" stroke="#333" stroke-width="0.14">PVA-</text>
<text x="395.9" y="171" font-size="3.8" fill="#333" text-anchor="middle" textLength="10.5" lengthAdjust="spacingAndGlyphs" stroke="#333" stroke-width="0.14">7.5000</text>
<text x="411.7" y="166.5" font-size="3.8" fill="#333" text-anchor="middle" textLength="7.6" lengthAdjust="spacingAndGlyphs" stroke="#333" stroke-width="0.14">PVA-</text>
<text x="411.7" y="171" font-size="3.8" fill="#333" text-anchor="middle" textLength="12.25" lengthAdjust="spacingAndGlyphs" stroke="#333" stroke-width="0.14">10.0000</text>
<line x1="277.4" y1="178.2" x2="320.6" y2="178.2" stroke="#333" stroke-width="0.8"/>
<line x1="277.4" y1="235.4" x2="320.6" y2="235.4" stroke="#666" stroke-width="0.5"/>
<line x1="277.4" y1="178.2" x2="277.4" y2="235.4" stroke="#e8b4b4" stroke-width="0.7"/>
<line x1="320.6" y1="178.2" x2="320.6" y2="235.4" stroke="#b0c4ec" stroke-width="0.7"/>
<defs><linearGradient id="gt" x1="0" y1="0" x2="1" y2="0"><stop offset="0" stop-color="#c8a896"/><stop offset="0.6" stop-color="#bcae9c"/><stop offset="1" stop-color="#a8b6a0"/></linearGradient><linearGradient id="gl" x1="0" y1="0" x2="1" y2="0"><stop offset="0" stop-color="#a8bcc0"/><stop offset="0.35" stop-color="#b0b2e6"/><stop offset="1" stop-color="#b0acec"/></linearGradient></defs>
<rect x="279.8" y="201.9" width="5.3" height="33.5" fill="url(#gt)"/>
<rect x="285.1" y="200.3" width="5.3" height="35.1" fill="url(#gl)"/>
<line x1="282.40000000000003" y1="199.4" x2="282.40000000000003" y2="204.3" stroke="#555" stroke-width="0.4"/>
<line x1="287.7" y1="197.8" x2="287.7" y2="202.7" stroke="#555" stroke-width="0.4"/>
<rect x="294" y="188.0" width="5.3" height="47.4" fill="url(#gt)"/>
<rect x="299.3" y="188.0" width="5.3" height="47.4" fill="url(#gl)"/>
<line x1="296.6" y1="185.6" x2="296.6" y2="190.5" stroke="#555" stroke-width="0.4"/>
<line x1="301.9" y1="185.6" x2="301.9" y2="190.5" stroke="#555" stroke-width="0.4"/>
<rect x="308.2" y="199.4" width="5.3" height="36.0" fill="url(#gt)"/>
<rect x="313.5" y="199.4" width="5.3" height="36.0" fill="url(#gl)"/>
<line x1="310.8" y1="197.0" x2="310.8" y2="201.9" stroke="#555" stroke-width="0.4"/>
<line x1="316.09999999999997" y1="197.0" x2="316.09999999999997" y2="201.9" stroke="#555" stroke-width="0.4"/>
<text x="275.5" y="236.9" font-size="4.2" fill="#e0a0a0" text-anchor="end" stroke="#e0a0a0" stroke-width="0.14">0</text>
<text x="322" y="236.9" font-size="4.2" fill="#a0b8e0" text-anchor="start" stroke="#a0b8e0" stroke-width="0.14">0</text>
<text x="275.5" y="228.72857142857143" font-size="4.2" fill="#e0a0a0" text-anchor="end" stroke="#e0a0a0" stroke-width="0.14">-5</text>
<text x="322" y="228.72857142857143" font-size="4.2" fill="#a0b8e0" text-anchor="start" stroke="#a0b8e0" stroke-width="0.14">-1</text>
<text x="275.5" y="220.55714285714285" font-size="4.2" fill="#e0a0a0" text-anchor="end" stroke="#e0a0a0" stroke-width="0.14">-10</text>
<text x="322" y="220.55714285714285" font-size="4.2" fill="#a0b8e0" text-anchor="start" stroke="#a0b8e0" stroke-width="0.14">-2</text>
<text x="275.5" y="212.38571428571427" font-size="4.2" fill="#e0a0a0" text-anchor="end" stroke="#e0a0a0" stroke-width="0.14">-15</text>
<text x="322" y="212.38571428571427" font-size="4.2" fill="#a0b8e0" text-anchor="start" stroke="#a0b8e0" stroke-width="0.14">-3</text>
<text x="275.5" y="204.21428571428572" font-size="4.2" fill="#e0a0a0" text-anchor="end" stroke="#e0a0a0" stroke-width="0.14">-20</text>
<text x="322" y="204.21428571428572" font-size="4.2" fill="#a0b8e0" text-anchor="start" stroke="#a0b8e0" stroke-width="0.14">-4</text>
<text x="275.5" y="196.04285714285714" font-size="4.2" fill="#e0a0a0" text-anchor="end" stroke="#e0a0a0" stroke-width="0.14">-25</text>
<text x="322" y="196.04285714285714" font-size="4.2" fill="#a0b8e0" text-anchor="start" stroke="#a0b8e0" stroke-width="0.14">-5</text>
<text x="275.5" y="187.87142857142857" font-size="4.2" fill="#e0a0a0" text-anchor="end" stroke="#e0a0a0" stroke-width="0.14">-30</text>
<text x="322" y="187.87142857142857" font-size="4.2" fill="#a0b8e0" text-anchor="start" stroke="#a0b8e0" stroke-width="0.14">-6</text>
<text x="275.5" y="179.7" font-size="4.2" fill="#e0a0a0" text-anchor="end" stroke="#e0a0a0" stroke-width="0.14">-35</text>
<text x="322" y="179.7" font-size="4.2" fill="#a0b8e0" text-anchor="start" stroke="#a0b8e0" stroke-width="0.14">-7</text>
<text x="282.4" y="238.6" font-size="3.8" fill="#333" text-anchor="middle" textLength="7" lengthAdjust="spacingAndGlyphs" stroke="#333" stroke-width="0.14">pH 5</text>
<text x="299" y="238.6" font-size="3.8" fill="#333" text-anchor="middle" textLength="7" lengthAdjust="spacingAndGlyphs" stroke="#333" stroke-width="0.14">pH 7</text>
<text x="313.6" y="238.6" font-size="3.8" fill="#333" text-anchor="middle" textLength="7" lengthAdjust="spacingAndGlyphs" stroke="#333" stroke-width="0.14">pH 9</text>
<text x="0" y="0" font-size="5.2" fill="#333" stroke="#333" stroke-width="0.12" text-anchor="middle" textLength="22" lengthAdjust="spacingAndGlyphs" transform="translate(267.6,206) rotate(-90)">Current (nA)</text>
<text x="0" y="0" font-size="5.2" fill="#333" stroke="#333" stroke-width="0.12" text-anchor="middle" textLength="20" lengthAdjust="spacingAndGlyphs" transform="translate(333,207.4) rotate(-90)">Voltage (V)</text>
<text x="0" y="0" font-size="5.2" fill="#333" stroke="#333" stroke-width="0.12" text-anchor="middle" textLength="22.6" lengthAdjust="spacingAndGlyphs" transform="translate(340.4,207.3) rotate(-90)">Current (nA)</text>
<rect x="350.7" y="178.2" width="69.60000000000002" height="54.60000000000002" fill="none" stroke="#555" stroke-width="0.5"/>
<line x1="350.7" y1="178.2" x2="420.3" y2="178.2" stroke="#333" stroke-width="0.8"/>
<line x1="350.7" y1="178.2" x2="350.7" y2="232.8" stroke="#d89898" stroke-width="0.7"/>
<line x1="420.3" y1="178.2" x2="420.3" y2="232.8" stroke="#a8a0c8" stroke-width="0.6"/>
<rect x="352.8" y="187.2" width="4.6" height="45.6" fill="#cc6c50"/>
<rect x="357.40000000000003" y="183.5" width="4.8" height="49.3" fill="#7a5ab2"/>
<line x1="355.1" y1="185.0" x2="355.1" y2="189.2" stroke="#444" stroke-width="0.4"/>
<line x1="359.8" y1="180.7" x2="359.8" y2="185.5" stroke="#444" stroke-width="0.4"/>
<rect x="363.4" y="223.7" width="4.6" height="9.1" fill="#cc6c50"/>
<rect x="368.0" y="217.6" width="4.8" height="15.2" fill="#7a5ab2"/>
<line x1="365.7" y1="221.5" x2="365.7" y2="225.7" stroke="#444" stroke-width="0.4"/>
<line x1="370.4" y1="214.79999999999998" x2="370.4" y2="219.6" stroke="#444" stroke-width="0.4"/>
<rect x="375" y="231.3" width="4.6" height="1.5" fill="#cc6c50"/>
<rect x="379.6" y="228.2" width="4.8" height="4.6" fill="#7a5ab2"/>
<line x1="377.3" y1="229.10000000000002" x2="377.3" y2="233.3" stroke="#444" stroke-width="0.4"/>
<line x1="382" y1="225.39999999999998" x2="382" y2="230.2" stroke="#444" stroke-width="0.4"/>
<rect x="386.2" y="212.4" width="4.6" height="20.4" fill="#cc6c50"/>
<rect x="390.8" y="196.9" width="4.8" height="35.9" fill="#7a5ab2"/>
<line x1="388.5" y1="210.20000000000002" x2="388.5" y2="214.4" stroke="#444" stroke-width="0.4"/>
<line x1="393.2" y1="194.1" x2="393.2" y2="198.9" stroke="#444" stroke-width="0.4"/>
<rect x="397.5" y="221.5" width="4.6" height="11.3" fill="#cc6c50"/>
<rect x="402.1" y="208.5" width="4.8" height="24.3" fill="#7a5ab2"/>
<line x1="399.8" y1="219.3" x2="399.8" y2="223.5" stroke="#444" stroke-width="0.4"/>
<line x1="404.5" y1="205.7" x2="404.5" y2="210.5" stroke="#444" stroke-width="0.4"/>
<rect x="409" y="229.7" width="4.6" height="3.1" fill="#cc6c50"/>
<rect x="413.6" y="223.7" width="4.8" height="9.1" fill="#7a5ab2"/>
<line x1="411.3" y1="227.5" x2="411.3" y2="231.7" stroke="#444" stroke-width="0.4"/>
<line x1="416" y1="220.89999999999998" x2="416" y2="225.7" stroke="#444" stroke-width="0.4"/>
<text x="348.5" y="234.3" font-size="4.2" fill="#e09090" text-anchor="end" stroke="#e09090" stroke-width="0.14">0</text>
<text x="348.5" y="223.38000000000002" font-size="4.2" fill="#e09090" text-anchor="end" stroke="#e09090" stroke-width="0.14">-5</text>
<text x="348.5" y="212.46" font-size="4.2" fill="#e09090" text-anchor="end" stroke="#e09090" stroke-width="0.14">-10</text>
<text x="348.5" y="201.54000000000002" font-size="4.2" fill="#e09090" text-anchor="end" stroke="#e09090" stroke-width="0.14">-15</text>
<text x="348.5" y="190.62" font-size="4.2" fill="#e09090" text-anchor="end" stroke="#e09090" stroke-width="0.14">-20</text>
<text x="348.5" y="179.70000000000002" font-size="4.2" fill="#e09090" text-anchor="end" stroke="#e09090" stroke-width="0.14">-25</text>
<text x="422.5" y="234.3" font-size="4.2" fill="#a8a0d8" text-anchor="start" stroke="#a8a0d8" stroke-width="0.14">0</text>
<text x="422.5" y="222.0" font-size="4.2" fill="#a8a0d8" text-anchor="start" stroke="#a8a0d8" stroke-width="0.14">-1</text>
<text x="422.5" y="209.70000000000002" font-size="4.2" fill="#a8a0d8" text-anchor="start" stroke="#a8a0d8" stroke-width="0.14">-2</text>
<text x="422.5" y="197.4" font-size="4.2" fill="#a8a0d8" text-anchor="start" stroke="#a8a0d8" stroke-width="0.14">-3</text>
<text x="422.5" y="185.10000000000002" font-size="4.2" fill="#a8a0d8" text-anchor="start" stroke="#a8a0d8" stroke-width="0.14">-4</text>
<text x="357.3" y="237.2" font-size="3.8" fill="#a83838" text-anchor="middle" textLength="5" lengthAdjust="spacingAndGlyphs" stroke="#a83838" stroke-width="0.14">0.5</text>
<text x="357.3" y="241.6" font-size="3.8" fill="#333" text-anchor="middle" textLength="6.8" lengthAdjust="spacingAndGlyphs" stroke="#333" stroke-width="0.14">NaCl</text>
<text x="368" y="237.2" font-size="3.8" fill="#a83838" text-anchor="middle" textLength="5" lengthAdjust="spacingAndGlyphs" stroke="#a83838" stroke-width="0.14">0.9</text>
<text x="368" y="241.6" font-size="3.8" fill="#333" text-anchor="middle" textLength="6.8" lengthAdjust="spacingAndGlyphs" stroke="#333" stroke-width="0.14">NaCl</text>
<text x="379.4" y="237.2" font-size="3.8" fill="#a83838" text-anchor="middle" textLength="5" lengthAdjust="spacingAndGlyphs" stroke="#a83838" stroke-width="0.14">1.5</text>
<text x="379.4" y="241.6" font-size="3.8" fill="#333" text-anchor="middle" textLength="6.8" lengthAdjust="spacingAndGlyphs" stroke="#333" stroke-width="0.14">NaCl</text>
<text x="390.9" y="237.2" font-size="3.8" fill="#a83838" text-anchor="middle" textLength="5" lengthAdjust="spacingAndGlyphs" stroke="#a83838" stroke-width="0.14">0.5</text>
<text x="390.9" y="241.6" font-size="3.8" fill="#333" text-anchor="middle" textLength="5.1" lengthAdjust="spacingAndGlyphs" stroke="#333" stroke-width="0.14">KCl</text>
<text x="402.2" y="237.2" font-size="3.8" fill="#a83838" text-anchor="middle" textLength="5" lengthAdjust="spacingAndGlyphs" stroke="#a83838" stroke-width="0.14">0.9</text>
<text x="402.2" y="241.6" font-size="3.8" fill="#333" text-anchor="middle" textLength="5.1" lengthAdjust="spacingAndGlyphs" stroke="#333" stroke-width="0.14">KCl</text>
<text x="413.3" y="237.2" font-size="3.8" fill="#a83838" text-anchor="middle" textLength="5" lengthAdjust="spacingAndGlyphs" stroke="#a83838" stroke-width="0.14">1.5</text>
<text x="413.3" y="241.6" font-size="3.8" fill="#333" text-anchor="middle" textLength="5.1" lengthAdjust="spacingAndGlyphs" stroke="#333" stroke-width="0.14">KCl</text>
<rect x="357.4" y="183.5" width="1.6" height="49.3" fill="#a848a8" opacity="0.6"/>
<text x="0" y="0" font-size="5.2" fill="#333" stroke="#333" stroke-width="0.12" text-anchor="middle" textLength="18" lengthAdjust="spacingAndGlyphs" transform="translate(429.8,199.4) rotate(-90)">Voltage (V)</text>
<rect x="461.2" y="99.5" width="71.00000000000006" height="57.900000000000006" fill="none" stroke="#444" stroke-width="0.7"/>
<path d="M461.2,110.4 L465.6,110.4 L467.7,148 L473.8,148 L475.6,110.4 L485.4,110.4 L487.2,148 L493.9,148 L495.7,110.4 L503.6,110.4 L505.5,148 L512.7,148 L514.6,110.4 L524.3,110.4 L526.2,148 L532.2,148" fill="none" stroke="#e2c0cc" stroke-width="0.75"/>
<text x="459.4" y="112.5" font-size="6" fill="#333" text-anchor="end" textLength="2.4" lengthAdjust="spacingAndGlyphs" stroke="#333" stroke-width="0.14">0</text>
<line x1="461.2" y1="110.4" x2="462.5" y2="110.4" stroke="#444" stroke-width="0.4"/>
<text x="459.4" y="130.1" font-size="6" fill="#333" text-anchor="end" textLength="4.8" lengthAdjust="spacingAndGlyphs" stroke="#333" stroke-width="0.14">-1</text>
<line x1="461.2" y1="128.0" x2="462.5" y2="128.0" stroke="#444" stroke-width="0.4"/>
<text x="459.4" y="147.70000000000002" font-size="6" fill="#333" text-anchor="end" textLength="4.8" lengthAdjust="spacingAndGlyphs" stroke="#333" stroke-width="0.14">-2</text>
<line x1="461.2" y1="145.6" x2="462.5" y2="145.6" stroke="#444" stroke-width="0.4"/>
<text x="461.2" y="164.2" font-size="5.2" fill="#333" text-anchor="middle" textLength="10.6" lengthAdjust="spacingAndGlyphs" stroke="#333" stroke-width="0.14">1000</text>
<line x1="461.2" y1="157.4" x2="461.2" y2="156.1" stroke="#444" stroke-width="0.4"/>
<text x="475.36" y="164.2" font-size="5.2" fill="#333" text-anchor="middle" textLength="10.6" lengthAdjust="spacingAndGlyphs" stroke="#333" stroke-width="0.14">1001</text>
<line x1="475.4" y1="157.4" x2="475.4" y2="156.1" stroke="#444" stroke-width="0.4"/>
<text x="489.52" y="164.2" font-size="5.2" fill="#333" text-anchor="middle" textLength="10.6" lengthAdjust="spacingAndGlyphs" stroke="#333" stroke-width="0.14">1002</text>
<line x1="489.5" y1="157.4" x2="489.5" y2="156.1" stroke="#444" stroke-width="0.4"/>
<text x="503.68" y="164.2" font-size="5.2" fill="#333" text-anchor="middle" textLength="10.6" lengthAdjust="spacingAndGlyphs" stroke="#333" stroke-width="0.14">1003</text>
<line x1="503.7" y1="157.4" x2="503.7" y2="156.1" stroke="#444" stroke-width="0.4"/>
<text x="517.84" y="164.2" font-size="5.2" fill="#333" text-anchor="middle" textLength="10.6" lengthAdjust="spacingAndGlyphs" stroke="#333" stroke-width="0.14">1004</text>
<line x1="517.8" y1="157.4" x2="517.8" y2="156.1" stroke="#444" stroke-width="0.4"/>
<text x="532.0" y="164.2" font-size="5.2" fill="#333" text-anchor="middle" textLength="10.6" lengthAdjust="spacingAndGlyphs" stroke="#333" stroke-width="0.14">1005</text>
<line x1="532.0" y1="157.4" x2="532.0" y2="156.1" stroke="#444" stroke-width="0.4"/>
<text x="498" y="170.3" font-size="5.6" fill="#333" text-anchor="middle" textLength="20.5" lengthAdjust="spacingAndGlyphs" stroke="#333" stroke-width="0.14">Time (s)</text>
<text x="0" y="0" font-size="5.2" fill="#333" stroke="#333" stroke-width="0.12" text-anchor="middle" textLength="18.5" lengthAdjust="spacingAndGlyphs" transform="translate(452.6,126.8) rotate(-90)">Voltage (V)</text>
<line x1="465.6" y1="167" x2="485.6" y2="177.3" stroke="#9098a8" stroke-width="0.5"/>
<line x1="532.7" y1="167" x2="486.5" y2="177.3" stroke="#9098a8" stroke-width="0.5"/>
<polygon points="464.5,165.8 467,165.8 465.8,168" fill="#3848a8"/>
<polygon points="531.6,165.8 534.1,165.8 532.9,168" fill="#3848a8"/>
<path d="M448,187.3 L470,186.2 L490,185.6 L510,184.4 L540,183.4 L540,224.2 L520,223.4 L490,221.6 L470,220.8 L448,219.8 Z" fill="#f9d4e4"/>
<path d="M448,188.4 L470,187.6 L490,186.8 L510,185.4 L540,184.6 L540,222.5 L520,221.8 L490,220.4 L470,219.2 L448,217.6 Z" fill="#f3abca"/>
<line x1="448" y1="190.3" x2="540" y2="190.3" stroke="#d898b8" stroke-width="0.6"/>
<rect x="540" y="183.4" width="1.6" height="41" fill="#d8a0bc"/>
<line x1="485.8" y1="177.3" x2="485.8" y2="229.2" stroke="#a89cbc" stroke-width="0.8"/>
<rect x="448" y="177.3" width="93.60000000000002" height="51.89999999999998" fill="none" stroke="#444" stroke-width="0.7"/>
<text x="445.3" y="189.60000000000002" font-size="5.2" fill="#333" text-anchor="end" stroke="#333" stroke-width="0.14">0</text>
<text x="445.3" y="205.00000000000003" font-size="5.2" fill="#333" text-anchor="end" stroke="#333" stroke-width="0.14">-1</text>
<text x="445.3" y="220.40000000000003" font-size="5.2" fill="#333" text-anchor="end" stroke="#333" stroke-width="0.14">-2</text>
<text x="448.0" y="235.4" font-size="5.2" fill="#333" text-anchor="middle" textLength="2.65" lengthAdjust="spacingAndGlyphs" stroke="#333" stroke-width="0.14">0</text>
<line x1="448.0" y1="229.2" x2="448.0" y2="227.89999999999998" stroke="#444" stroke-width="0.4"/>
<text x="466.68" y="235.4" font-size="5.2" fill="#333" text-anchor="middle" textLength="7.949999999999999" lengthAdjust="spacingAndGlyphs" stroke="#333" stroke-width="0.14">500</text>
<line x1="466.7" y1="229.2" x2="466.7" y2="227.89999999999998" stroke="#444" stroke-width="0.4"/>
<text x="485.36" y="235.4" font-size="5.2" fill="#333" text-anchor="middle" textLength="10.6" lengthAdjust="spacingAndGlyphs" stroke="#333" stroke-width="0.14">1000</text>
<line x1="485.4" y1="229.2" x2="485.4" y2="227.89999999999998" stroke="#444" stroke-width="0.4"/>
<text x="504.04" y="235.4" font-size="5.2" fill="#333" text-anchor="middle" textLength="10.6" lengthAdjust="spacingAndGlyphs" stroke="#333" stroke-width="0.14">1500</text>
<line x1="504.0" y1="229.2" x2="504.0" y2="227.89999999999998" stroke="#444" stroke-width="0.4"/>
<text x="522.72" y="235.4" font-size="5.2" fill="#333" text-anchor="middle" textLength="10.6" lengthAdjust="spacingAndGlyphs" stroke="#333" stroke-width="0.14">2000</text>
<line x1="522.7" y1="229.2" x2="522.7" y2="227.89999999999998" stroke="#444" stroke-width="0.4"/>
<text x="541.4" y="235.4" font-size="5.2" fill="#333" text-anchor="middle" textLength="10.6" lengthAdjust="spacingAndGlyphs" stroke="#333" stroke-width="0.14">2500</text>
<line x1="541.4" y1="229.2" x2="541.4" y2="227.89999999999998" stroke="#444" stroke-width="0.4"/>
<text x="500" y="241.6" font-size="5.6" fill="#333" text-anchor="middle" textLength="18.5" lengthAdjust="spacingAndGlyphs" stroke="#333" stroke-width="0.14">Time (s)</text>
<text x="0" y="0" font-size="5.4" fill="#333" stroke="#333" stroke-width="0.12" text-anchor="middle" textLength="21.5" lengthAdjust="spacingAndGlyphs" transform="translate(440.6,205.9) rotate(-90)">Voltage (V)</text>
</svg></body></html>
